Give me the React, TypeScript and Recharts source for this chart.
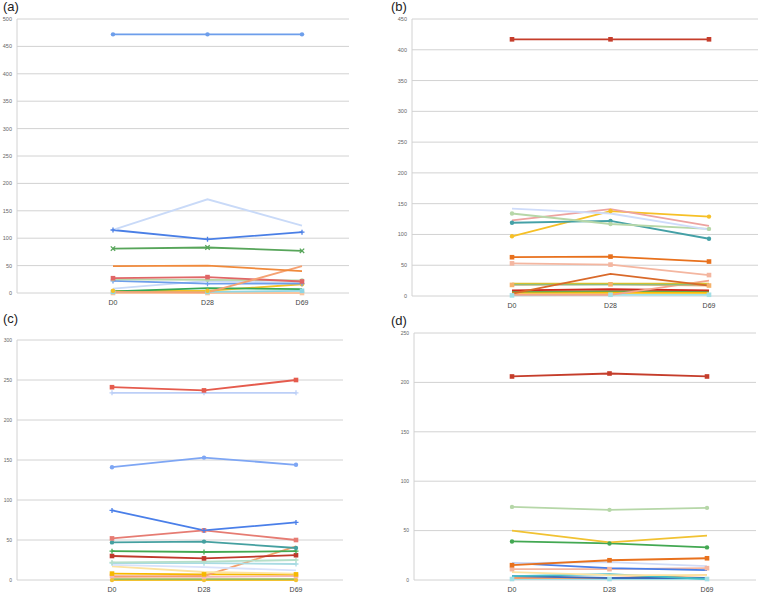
import React from "react";
import { LineChart, Line, XAxis, YAxis, CartesianGrid } from "recharts";

const categories = ["D0", "D28", "D69"];

const ticksA = [0, 50, 100, 150, 200, 250, 300, 350, 400, 450, 500];
const ticksB = [0, 50, 100, 150, 200, 250, 300, 350, 400, 450];
const ticksC = [0, 50, 100, 150, 200, 250, 300];
const ticksD = [0, 50, 100, 150, 200, 250];

// panel (a) series values (D0, D28, D69)
const seriesA = [
  [472, 472, 472],
  [115, 171, 123],
  [115, 98, 111],
  [81, 83, 77],
  [49, 50, 40],
  [2, 1, 49],
  [27, 29, 21],
  [25, 24, 23],
  [22, 17, 17],
  [8, 22, 18],
  [3, 9, 7],
  [4, 4, 16],
  [2, 2, 4],
  [0, 0, 0],
];
// panel (b)
const seriesB = [
  [417, 417, 417],
  [142, 134, 108],
  [134, 117, 109],
  [123, 141, 114],
  [119, 122, 93],
  [97, 138, 129],
  [63, 64, 56],
  [53, 51, 34],
  [4, 36, 17],
  [20, 20, 20],
  [19, 19, 19],
  [18, 19, 17],
  [2, 2, 25],
  [9, 11, 9],
  [7, 8, 8],
  [5, 5, 5],
  [1, 2, 2],
];
// panel (c)
const seriesC = [
  [241, 237, 250],
  [234, 234, 234],
  [141, 153, 144],
  [87, 62, 72],
  [52, 62, 50],
  [47, 48, 40],
  [36, 35, 36],
  [30, 27, 31],
  [22, 23, 25],
  [21, 21, 20],
  [19, 16, 12],
  [17, 10, 8],
  [4, 5, 42],
  [8, 7, 7],
  [5, 4, 5],
  [1, 1, 1],
  [0, 0, 0],
];
// panel (d)
const seriesD = [
  [206, 209, 206],
  [74, 71, 73],
  [50, 38, 45],
  [39, 37, 33],
  [15, 20, 22],
  [17, 18, 14],
  [17, 12, 10],
  [11, 11, 12],
  [8, 5, 5],
  [4, 6, 1],
  [4, 2, 2],
  [2, 2, 5],
  [1, 1, 1],
];

// styles (colour, marker) kept separate from data
const styleA = [
  ["#6d9eeb", "circle"],
  ["#c9daf8", "none"],
  ["#4a7fe6", "plus"],
  ["#57a55a", "x"],
  ["#f08a3c", "none"],
  ["#f5a273", "none"],
  ["#e06666", "square"],
  ["#b6d7a8", "circle"],
  ["#6d9eeb", "plus"],
  ["#c9daf8", "none"],
  ["#34a853", "none"],
  ["#f6c026", "circle"],
  ["#8fd6e4", "square"],
  ["#f9c5a0", "square"],
];
const styleB = [
  ["#c53d2b", "square"],
  ["#cfdcfa", "none"],
  ["#b6d7a8", "circle"],
  ["#eda3a0", "none"],
  ["#44a0a6", "circle"],
  ["#f6c026", "circle"],
  ["#e8711d", "square"],
  ["#f4b6a0", "square"],
  ["#d9692a", "none"],
  ["#d6c030", "none"],
  ["#46bdc6", "none"],
  ["#f6b26b", "square"],
  ["#f4a48c", "none"],
  ["#cc2a1e", "none"],
  ["#6aa84f", "none"],
  ["#fbbc04", "none"],
  ["#a2dfe6", "square"],
];
const styleC = [
  ["#e55b4d", "square"],
  ["#bccff7", "plus"],
  ["#7ea6f4", "circle"],
  ["#4a7fe9", "plus"],
  ["#e67c73", "square"],
  ["#45a0a0", "circle"],
  ["#43a852", "plus"],
  ["#c0392b", "square"],
  ["#b5dfc9", "plus"],
  ["#a8dbe3", "plus"],
  ["#d8e2fb", "none"],
  ["#fde3a0", "none"],
  ["#f6a06b", "none"],
  ["#f6b800", "square"],
  ["#f4b6b6", "square"],
  ["#9bbb59", "none"],
  ["#f1c232", "circle"],
];
const styleD = [
  ["#c53d2b", "square"],
  ["#b6d7a8", "circle"],
  ["#f1c232", "none"],
  ["#43a852", "circle"],
  ["#e8711d", "square"],
  ["#d0dcf8", "none"],
  ["#4a7fe9", "none"],
  ["#f4b6a0", "square"],
  ["#fde3a0", "none"],
  ["#46bdc6", "none"],
  ["#3d6cb9", "none"],
  ["#f6a06b", "none"],
  ["#a2dfe6", "square"],
];

function buildRows(series: number[][]) {
  return categories.map((c, i) => {
    const row: Record<string, any> = { cat: c };
    series.forEach((s, k) => {
      row["s" + k] = s[i];
    });
    return row;
  });
}

function makeDot(shape: string, color: string) {
  if (shape === "none") return false as any;
  return (props: any) => {
    const { cx, cy, index } = props;
    if (cx == null || cy == null) return <g key={index} />;
    if (shape === "circle")
      return <circle key={index} cx={cx} cy={cy} r={2.2} fill={color} stroke="none" />;
    if (shape === "square")
      return <rect key={index} x={cx - 2.3} y={cy - 2.3} width={4.6} height={4.6} fill={color} />;
    if (shape === "plus")
      return (
        <path key={index} d={`M${cx - 2.5},${cy}H${cx + 2.5}M${cx},${cy - 2.5}V${cy + 2.5}`} stroke={color} strokeWidth={1.3} />
      );
    return (
      <path key={index} d={`M${cx - 2.2},${cy - 2.2}L${cx + 2.2},${cy + 2.2}M${cx + 2.2},${cy - 2.2}L${cx - 2.2},${cy + 2.2}`} stroke={color} strokeWidth={1.3} />
    );
  };
}

type PanelProps = {
  series: number[][];
  styles: string[][];
  ticks: number[];
  left: number;
  top: number;
  width: number;
  height: number;
  yWidth: number;
  marginRight: number;
  padLeft: number;
  padRight: number;
  yFont: number;
};

function Panel(p: PanelProps) {
  const rows = buildRows(p.series);
  const max = p.ticks[p.ticks.length - 1];
  return (
    <div style={{ position: "absolute", left: p.left, top: p.top }}>
      <LineChart
        width={p.width}
        height={p.height}
        data={rows}
        margin={{ top: 19, right: p.marginRight, left: 0, bottom: 0 }}
      >
        <CartesianGrid vertical={false} stroke="#d2d2d2" strokeWidth={1} />
        <XAxis
          dataKey="cat"
          height={17}
          padding={{ left: p.padLeft, right: p.padRight }}
          axisLine={false}
          tickLine={false}
          tickSize={0}
          tickMargin={7}
          tick={{ fontSize: 7, fill: "#444", fontFamily: "Liberation Sans, Arial" }}
          interval={0}
        />
        <YAxis
          width={p.yWidth}
          domain={[0, max]}
          ticks={p.ticks}
          type="number"
          axisLine={{ stroke: "#d2d2d2" }}
          tickLine={false}
          tickSize={0}
          tickMargin={5}
          tick={{ fontSize: p.yFont, fill: "#666", fontFamily: "Liberation Sans, Arial" }}
          interval={0}
        />
        {p.series
          .map((_, k) => k)
          .reverse()
          .map((k) => (
            <Line
              key={k}
              type="linear"
              dataKey={"s" + k}
              stroke={p.styles[k][0]}
              strokeWidth={1.8}
              dot={makeDot(p.styles[k][1], p.styles[k][0])}
              activeDot={false}
              isAnimationActive={false}
            />
          ))}
      </LineChart>
    </div>
  );
}

const labelStyle: React.CSSProperties = {
  position: "absolute",
  fontFamily: "Liberation Sans, Arial, sans-serif",
  fontSize: 13,
  lineHeight: "13px",
  color: "#222",
};

export default function App() {
  return (
    <div
      style={{
        position: "absolute",
        left: 0,
        top: 0,
        width: 759,
        height: 593,
        overflow: "hidden",
        background: "#fff",
      }}
    >
      <Panel series={seriesA} styles={styleA} ticks={ticksA} left={0} top={0} width={380} height={310} yWidth={17} marginRight={31} padLeft={96} padRight={47} yFont={5.5} />
      <Panel series={seriesB} styles={styleB} ticks={ticksB} left={379} top={0} width={380} height={313} yWidth={33} marginRight={1} padLeft={100} padRight={49} yFont={5.5} />
      <Panel series={seriesC} styles={styleC} ticks={ticksC} left={0} top={321} width={380} height={276} yWidth={17} marginRight={37} padLeft={95} padRight={47} yFont={5} />
      <Panel series={seriesD} styles={styleD} ticks={ticksD} left={379} top={314} width={380} height={283} yWidth={35} marginRight={3} padLeft={98} padRight={49} yFont={5} />
      <div style={{ ...labelStyle, left: 3, top: 0 }}>(a)</div>
      <div style={{ ...labelStyle, left: 391, top: 0 }}>(b)</div>
      <div style={{ ...labelStyle, left: 3, top: 312 }}>(c)</div>
      <div style={{ ...labelStyle, left: 391, top: 314 }}>(d)</div>
    </div>
  );
}
